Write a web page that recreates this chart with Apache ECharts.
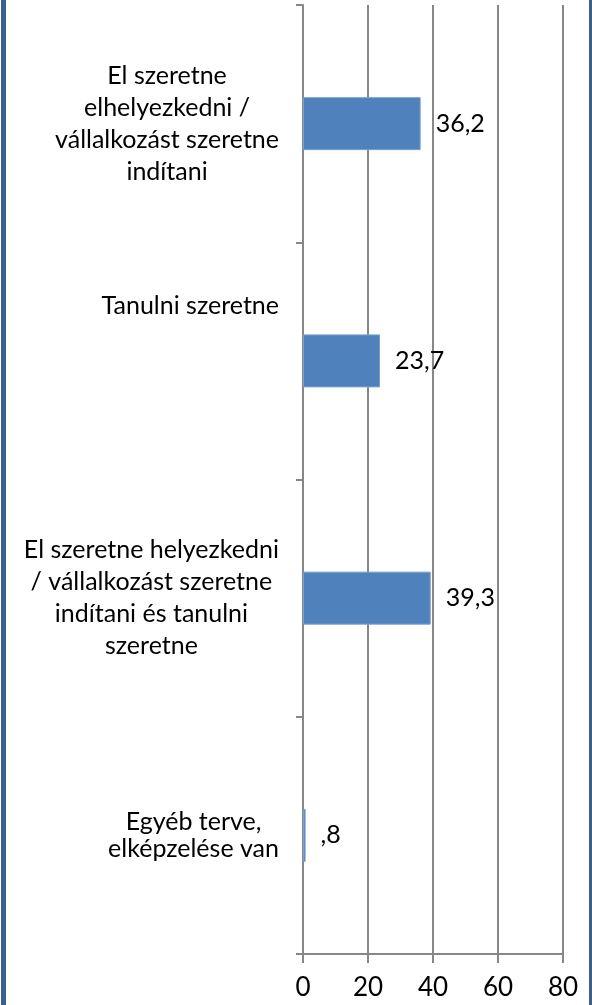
<!DOCTYPE html>
<html>
<head>
<meta charset="utf-8">
<script src="https://cdn.jsdelivr.net/npm/echarts@6/dist/echarts.min.js"></script>
<style>
  html, body { margin: 0; padding: 0; background: #fff; }
  #wrap { position: absolute; left: 0; top: 0; width: 592px; height: 1005px; }
  #edgeL { position: absolute; left: 1px; top: 0; width: 5px; height: 1005px; background: #3d5e8f; }
  #edgeR { position: absolute; left: 589px; top: 0; width: 3px; height: 1005px; background: #3d5e8f; }
  #chart { position: absolute; left: 0; top: 0; width: 592px; height: 1005px; }
</style>
</head>
<body>
<div id="wrap">
  <div id="chart"></div>
  <div id="edgeL"></div>
  <div id="edgeR"></div>
</div>
<script>
  // categories, top to bottom, with their line breaks
  const categories = [
    ["El szeretne", "elhelyezkedni /", "vállalkozást szeretne", "indítani"],
    ["Tanulni szeretne"],
    ["El szeretne helyezkedni", "/ vállalkozást szeretne", "indítani és tanulni", "szeretne"],
    ["Egyéb terve,", "elképzelése van"]
  ];
  const values = [36.2, 23.7, 39.3, 0.8];
  const valueLabels = ["36,2", "23,7", "39,3", ",8"];
  const xTicks = [0, 20, 40, 60, 80];

  const font = "Lato, 'Open Sans', sans-serif";
  const gridColor = "#878787";

  const chart = echarts.init(document.getElementById("chart"));

  const catData = categories.map((lines, i) => {
    const item = { value: lines.join("\n") };
    if (i === 1) {
      // Excel puts this single-line label higher than its bar
      item.textStyle = { padding: [0, 0, 110, 0] };
    }
    return item;
  });

  const option = {
    animation: false,
    backgroundColor: "#fff",
    grid: { left: 303, right: 29, top: 5, bottom: 51 },
    xAxis: {
      type: "value",
      min: xTicks[0],
      max: xTicks[xTicks.length - 1],
      interval: 20,
      axisLine: { show: true, lineStyle: { color: gridColor, width: 2 } },
      axisTick: { show: true, length: 9, lineStyle: { color: gridColor, width: 2 } },
      splitLine: { show: true, lineStyle: { color: gridColor, width: 2 } },
      axisLabel: {
        margin: 21,
        color: "#000",
        fontSize: 26,
        fontFamily: font
      }
    },
    yAxis: {
      type: "category",
      inverse: true,
      data: catData,
      axisLine: { show: true, lineStyle: { color: gridColor, width: 2 } },
      axisTick: { show: true, length: 7, lineStyle: { color: gridColor, width: 2 } },
      axisLabel: {
        margin: 24,
        color: "#000",
        fontSize: 25,
        fontFamily: font,
        formatter: function (value, index) {
          const style = index === 3 ? "d" : "c";
          return value.split("\n").map(l => "{" + style + "|" + l + "}").join("\n");
        },
        rich: {
          c: { align: "center", fontSize: 25, lineHeight: 32, fontFamily: font, color: "#000" },
          d: { align: "center", fontSize: 25, lineHeight: 27, fontFamily: font, color: "#000" }
        }
      }
    },
    series: [
      {
        type: "bar",
        data: values,
        barWidth: 53,
        itemStyle: { color: "#4f81bd", borderColor: "#7aa0d0", borderWidth: 1 },
        label: {
          show: true,
          position: "right",
          distance: 15,
          color: "#000",
          fontSize: 25,
          fontFamily: font,
          formatter: p => valueLabels[p.dataIndex]
        }
      }
    ]
  };
  chart.setOption(option);
</script>
</body>
</html>
